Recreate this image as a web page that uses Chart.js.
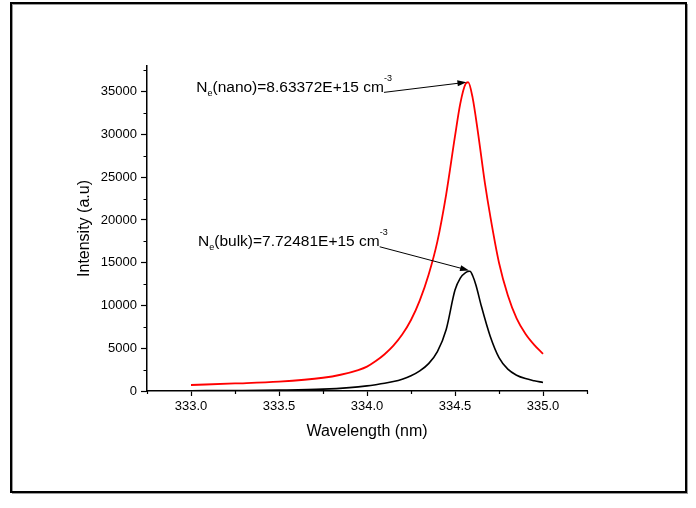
<!DOCTYPE html>
<html>
<head>
<meta charset="utf-8">
<script src="https://cdn.jsdelivr.net/npm/chart.js@4.4.0/dist/chart.umd.min.js"></script>
<style>
  html, body { margin: 0; padding: 0; background: #fff; }
  #wrap { width: 696px; height: 508px; position: relative; }
</style>
</head>
<body>
<div id="wrap"><canvas id="myChart" width="696" height="508"></canvas></div>
<script>
// wavelength (nm) and intensity
const nanoX = [333.0, 333.25, 333.5, 333.75, 333.85, 333.95, 334.0, 334.05, 334.1, 334.15, 334.2, 334.25, 334.3, 334.35,
  334.4, 334.45, 334.5, 334.53, 334.56, 334.575, 334.6, 334.63, 334.67, 334.7, 334.75, 334.8, 334.85, 334.9, 334.95, 335.0];
const nano = [700, 880, 1100, 1550, 1900, 2450, 2850, 3500, 4300, 5300, 6600, 8300, 10600, 13600,
  17500, 23000, 29800, 33600, 35900, 36100, 34300, 30300, 24300, 20500, 15000, 11200, 8500, 6700, 5400, 4350];

const bulkX = [333.0, 333.25, 333.5, 333.75, 333.9, 334.0, 334.05, 334.1, 334.15, 334.2, 334.25, 334.3, 334.35, 334.4,
  334.45, 334.5, 334.53, 334.56, 334.585, 334.6, 334.62, 334.65, 334.7, 334.75, 334.8, 334.85, 334.9, 334.95, 335.0];
const bulk = [30, 60, 110, 220, 400, 600, 740, 900, 1100, 1380, 1780, 2350, 3200, 4600,
  7200, 11800, 13200, 13850, 14000, 13500, 12300, 9900, 6400, 3900, 2550, 1850, 1450, 1200, 1000];

const xTicks = [333.0, 333.5, 334.0, 334.5, 335.0];
const xMinor = [332.75, 333.25, 333.75, 334.25, 334.75, 335.25];
const yTicks = [0, 5000, 10000, 15000, 20000, 25000, 30000, 35000];
const yMinor = [2500, 7500, 12500, 17500, 22500, 27500, 32500, 37500];

// annotation texts, anchored at (wavelength, intensity), arrow pointing at the peak
const notes = [
  { text: '(nano)=8.63372E+15 cm', at: [333.03, 35500], tip: [334.565, 36100] },
  { text: '(bulk)=7.72481E+15 cm', at: [333.04, 17450], tip: [334.58, 14100] }
];

const font = 'Arial, "Liberation Sans", sans-serif';

function mkData(xs, ys) {
  var out = [];
  for (var i = 0; i < xs.length; i++) out.push({ x: xs[i], y: ys[i] });
  return out;
}

const inList = (v, list) => list.some(t => Math.abs(t - v) < 1e-6);
const tickObjs = list => list.slice().sort((a, b) => a - b).map(v => ({ value: v }));

const framePlugin = {
  id: 'frame',
  beforeDraw(chart) {
    const ctx = chart.ctx;
    ctx.save();
    ctx.fillStyle = '#fff';
    ctx.fillRect(0, 0, chart.width, chart.height);
    ctx.strokeStyle = '#999';
    ctx.lineWidth = 1;
    ctx.strokeRect(12.5, 4.5, 675, 489);
    ctx.strokeStyle = '#000';
    ctx.lineWidth = 2;
    ctx.strokeRect(11, 3, 675, 489);
    ctx.restore();
  },
  afterDraw(chart) {
    const ctx = chart.ctx;
    const xs = chart.scales.x, ys = chart.scales.y;
    ctx.save();
    // minor ticks
    ctx.strokeStyle = '#000';
    ctx.lineWidth = 1.2;
    ctx.beginPath();
    xMinor.forEach(v => {
      const px = Math.round(xs.getPixelForValue(v)) + 0.5;
      ctx.moveTo(px, ys.bottom);
      ctx.lineTo(px, ys.bottom + 3);
    });
    yMinor.forEach(v => {
      const py = Math.round(ys.getPixelForValue(v)) + 0.5;
      ctx.moveTo(xs.left, py);
      ctx.lineTo(xs.left - 3.5, py);
    });
    ctx.stroke();

    // annotations
    notes.forEach(n => {
      let x = xs.getPixelForValue(n.at[0]);
      const y = ys.getPixelForValue(n.at[1]);
      ctx.fillStyle = '#000';
      ctx.textBaseline = 'middle';
      ctx.textAlign = 'left';
      ctx.font = '15.5px ' + font;
      ctx.fillText('N', x, y);
      x += ctx.measureText('N').width;
      ctx.font = '9px ' + font;
      ctx.fillText('e', x, y + 6);
      x += ctx.measureText('e').width;
      ctx.font = '15.5px ' + font;
      ctx.fillText(n.text, x, y);
      x += ctx.measureText(n.text).width;
      ctx.font = '9px ' + font;
      ctx.fillText('-3', x, y - 9);
      // arrow
      const sx = x, sy = y + 5;
      const tx = xs.getPixelForValue(n.tip[0]);
      const ty = ys.getPixelForValue(n.tip[1]);
      const ang = Math.atan2(ty - sy, tx - sx);
      ctx.strokeStyle = '#000';
      ctx.lineWidth = 1;
      ctx.beginPath();
      ctx.moveTo(sx, sy);
      ctx.lineTo(tx - 8 * Math.cos(ang), ty - 8 * Math.sin(ang));
      ctx.stroke();
      ctx.beginPath();
      ctx.moveTo(tx, ty);
      ctx.lineTo(tx - 9 * Math.cos(ang) + 3 * Math.sin(ang), ty - 9 * Math.sin(ang) - 3 * Math.cos(ang));
      ctx.lineTo(tx - 9 * Math.cos(ang) - 3 * Math.sin(ang), ty - 9 * Math.sin(ang) + 3 * Math.cos(ang));
      ctx.closePath();
      ctx.fill();
    });
    ctx.restore();
  }
};

const config = {
  type: 'line',
  data: {
    datasets: [
      { label: 'nano', data: mkData(nanoX, nano), borderColor: '#ff0000', borderWidth: 1.8, pointRadius: 0, cubicInterpolationMode: 'monotone' },
      { label: 'bulk', data: mkData(bulkX, bulk), borderColor: '#000000', borderWidth: 1.6, pointRadius: 0, cubicInterpolationMode: 'monotone' }
    ]
  },
  options: {
    responsive: false,
    animation: false,
    layout: { padding: { left: 0, top: 66, right: 109, bottom: 0 } },
    plugins: { legend: { display: false }, tooltip: { enabled: false } },
    scales: {
      x: {
        type: 'linear',
        min: 332.75,
        max: 335.25,
        afterBuildTicks: s => { s.ticks = tickObjs(xTicks); },
        afterFit: s => { s.height = 117; },
        border: { color: '#000', width: 1.5 },
        grid: { drawOnChartArea: false, tickLength: 5, tickWidth: 1.2, tickColor: '#000' },
        ticks: {
          autoSkip: false, maxRotation: 0, padding: 3,
          color: '#000', font: { family: font, size: 13 },
          callback: v => v.toFixed(1)
        },
        title: { display: true, text: 'Wavelength (nm)', color: '#000', font: { family: font, size: 16 }, padding: { top: 0, bottom: 67 } }
      },
      y: {
        type: 'linear',
        min: 0,
        max: 38000,
        afterBuildTicks: s => { s.ticks = tickObjs(yTicks); },
        afterFit: s => { s.width = 147; },
        border: { color: '#000', width: 1.5 },
        grid: { drawOnChartArea: false, tickLength: 6, tickWidth: 1.2, tickColor: '#000' },
        ticks: {
          autoSkip: false, padding: 4,
          color: '#000', font: { family: font, size: 13 },
          callback: v => String(Math.round(v))
        },
        title: { display: true, text: 'Intensity (a.u)', color: '#000', font: { family: font, size: 16 }, padding: { top: 75, bottom: 0 } }
      }
    }
  },
  plugins: [framePlugin]
};

const myChart = new Chart(document.getElementById('myChart'), config);
</script>
</body>
</html>
